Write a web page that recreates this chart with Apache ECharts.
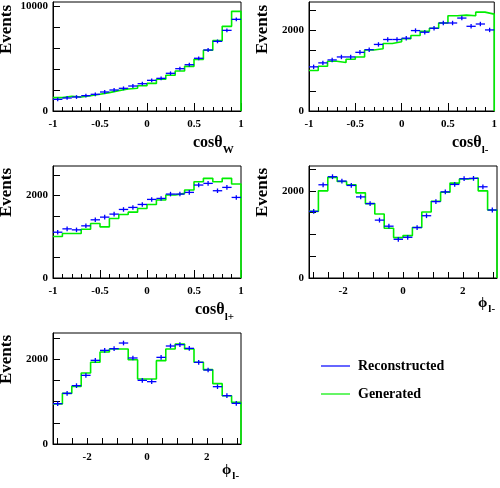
<!DOCTYPE html>
<html>
<head>
<meta charset="utf-8">
<script src="https://cdn.jsdelivr.net/npm/echarts@6/dist/echarts.min.js"></script>
<style>html,body{margin:0;padding:0;background:#fff;}#c{width:500px;height:488px;}</style>
</head>
<body>
<div id="c"></div>
<script>
// ---- data (20 bins per histogram) ----
const cosWGen  = [1270,1400,1330,1460,1590,1750,1940,2100,2160,2410,2630,3020,3400,3810,4250,4920,5780,6700,8060,9490];
const cosWRec  = [1110,1240,1330,1460,1590,1810,2000,2160,2380,2600,2920,3110,3590,4030,4410,5020,5810,6630,7680,8730];
const cosLmGen = [1004,1110,1233,1200,1282,1339,1510,1543,1673,1714,1788,1869,1976,2049,2180,2359,2376,2359,2449,2400];
const cosLmRec = [1094,1192,1265,1339,1339,1453,1518,1649,1771,1771,1804,1992,1951,2049,2180,2180,2302,2098,2155,2008];
const cosLpGen = [1004,1077,1077,1182,1320,1239,1441,1538,1595,1684,1781,1887,2008,2049,2130,2332,2413,2332,2413,2275];
const cosLpRec = [1109,1190,1166,1263,1409,1474,1547,1660,1709,1781,1903,1927,2032,2032,2073,2251,2291,2113,2194,1951];
const phiAGen  = [1529,2000,2309,2216,2139,1954,1707,1467,1143,927,973,1158,1514,1761,1969,2178,2270,2293,2000,1560];
const phiARec  = [1529,2139,2324,2224,2124,1861,1707,1328,1189,888,934,1158,1429,1753,1977,2147,2278,2286,2093,1560];
const phiBGen  = [941,1192,1357,1671,1922,2165,2235,2235,1984,1529,1529,1961,2235,2353,2235,1922,1749,1420,1137,980];
const phiBRec  = [949,1192,1373,1616,1969,2204,2243,2376,2024,1498,1467,2039,2306,2337,2251,1922,1741,1349,1137,957];
const recErr   = [180, 55, 55, 55, 55];
const yMax     = [10380, 2700, 2712, 2570, 2612];
const cosTickLabels = [-1, -0.5, 0, 0.5, 1];
const phiTickLabels = [-2, 0, 2];
const yLabelsBig = [0, 10000];
const yLabelsSmall = [0, 2000];
const legendNames = ['Reconstructed', 'Generated'];

// ---- layout ----
const FONT = '"Liberation Serif", "Times New Roman", serif';
const grids = [
  {left:53, top:2, width:188, height:109},
  {left:309, top:2, width:188, height:109},
  {left:53, top:166, width:188, height:112},
  {left:309, top:166, width:188, height:112},
  {left:53, top:333, width:188, height:111}
];
const PI = Math.PI;
const panels = [
  {gen:cosWGen, rec:cosWRec, lo:-1, hi:1, type:'cos'},
  {gen:cosLmGen, rec:cosLmRec, lo:-1, hi:1, type:'cos'},
  {gen:cosLpGen, rec:cosLpRec, lo:-1, hi:1, type:'cos'},
  {gen:phiAGen, rec:phiARec, lo:-PI, hi:PI, type:'phi'},
  {gen:phiBGen, rec:phiBRec, lo:-PI, hi:PI, type:'phi'}
];
const GREEN = '#00ee00', BLUE = '#0000ff';

function range(a, b, s){ const r=[]; for(let v=a; v<=b+1e-9; v+=s) r.push(+v.toFixed(6)); return r; }

const xAxes = [], yAxes = [], series = [];
panels.forEach((p, i) => {
  const n = p.gen.length, w = (p.hi - p.lo) / n;
  const edges = []; for (let k=0;k<=n;k++) edges.push(p.lo + k*w);
  const common = {
    gridIndex:i, type:'value', min:p.lo, max:p.hi,
    axisLine:{onZero:false, lineStyle:{color:'#000', width:1}},
    splitLine:{show:false},
  };
  if (p.type === 'cos') {
    xAxes.push(Object.assign({}, common, {
      interval:0.5,
      axisTick:{inside:true, length:8, lineStyle:{color:'#000'}},
      minorTick:{show:true, splitNumber:5, length:4, lineStyle:{color:'#000'}},
      axisLabel:{customValues:cosTickLabels, fontFamily:FONT, fontWeight:'bold', fontSize:11, color:'#000', margin:8, formatter:v=>String(v)}
    }));
  } else {
    xAxes.push(Object.assign({}, common, {
      axisTick:{inside:true, length:6, customValues:range(-3,3,0.5), lineStyle:{color:'#000'}},
      axisLabel:{customValues:phiTickLabels, fontFamily:FONT, fontWeight:'bold', fontSize:11, color:'#000', margin:8, formatter:v=>String(Math.round(v))}
    }));
  }
  const big = i === 0;
  yAxes.push({
    gridIndex:i, type:'value', min:0, max:yMax[i],
    axisLine:{show:true, onZero:false, lineStyle:{color:'#000', width:1}},
    splitLine:{show:false},
    axisTick:{inside:true, length:7, customValues: big ? range(0,10000,2000) : range(0,2500,500), lineStyle:{color:'#000'}},
    axisLabel:{customValues: big ? yLabelsBig : yLabelsSmall, fontFamily:FONT, fontWeight:'bold', fontSize:11, color:'#000', margin:5, formatter:v=>String(v)}
  });
  const genData = p.gen.map((v,k)=>[edges[k], v]);
  genData.push([edges[n], p.gen[n-1]]);
  genData.push([edges[n], 0]);
  series.push({
    name:'Generated', type:'line', xAxisIndex:i, yAxisIndex:i, step:'end',
    data:genData, showSymbol:false, symbol:'none', clip:false,
    lineStyle:{color:GREEN, width:1.6}, itemStyle:{color:GREEN}, z:3, animation:false
  });
  const recData = p.rec.map((v,k)=>[edges[k], edges[k+1], v, recErr[i]]);
  series.push({
    name:'Reconstructed', type:'custom', xAxisIndex:i, yAxisIndex:i,
    data:recData, encode:{x:[0,1], y:2}, itemStyle:{color:BLUE}, z:4, animation:false,
    renderItem:(params, api) => {
      const lo=api.value(0), hi=api.value(1), v=api.value(2), e=api.value(3);
      const a=api.coord([lo,v]), b=api.coord([hi,v]);
      const m=(lo+hi)/2, t=api.coord([m,v+e]), d=api.coord([m,v-e]);
      return {type:'group', children:[
        {type:'line', shape:{x1:a[0],y1:a[1],x2:b[0],y2:b[1]}, style:{stroke:BLUE, lineWidth:1.3}},
        {type:'line', shape:{x1:t[0],y1:t[1],x2:d[0],y2:d[1]}, style:{stroke:BLUE, lineWidth:1.3}}
      ]};
    }
  });
});

const richBase = {
  a:{fontFamily:FONT, fontWeight:'bold', fontSize:16, color:'#000', padding:[0,0,5,0]},
  p:{fontFamily:FONT, fontWeight:'bold', fontSize:15, color:'#000', padding:[0,1,4,0]},
  s:{fontFamily:FONT, fontWeight:'bold', fontSize:11, color:'#000', verticalAlign:'bottom'}
};
function title(x, y, txt){
  return {type:'text', x:x, y:y, style:{text:txt, rich:richBase, textAlign:'left', textVerticalAlign:'top'}, z:10};
}
function events(x, y){
  return {type:'text', x:x, y:y, rotation:Math.PI/2,
    style:{text:'Events', fontFamily:FONT, fontWeight:'bold', fontSize:17, fill:'#000', textAlign:'right', textVerticalAlign:'middle'}, z:10};
}

const option = {
  animation:false,
  backgroundColor:'#fff',
  grid: grids.map(g => Object.assign({show:true, borderColor:'#000', borderWidth:1, backgroundColor:'transparent', containLabel:false}, g)),
  xAxis: xAxes,
  yAxis: yAxes,
  legend:{
    orient:'vertical', left:316, top:354, itemWidth:29, itemHeight:1.2, itemGap:14, selectedMode:false,
    data:[
      {name:legendNames[0], icon:'rect', itemStyle:{color:BLUE}},
      {name:legendNames[1], icon:'rect', itemStyle:{color:GREEN}}
    ],
    textStyle:{fontFamily:FONT, fontWeight:'bold', fontSize:14, color:'#000', padding:[0,0,0,3]}
  },
  graphic:[
    events(7, 5), events(263, 5), events(7, 168), events(263, 168), events(7, 335),
    title(193, 135, '{a|cosθ}{s|W}'),
    title(452, 135, '{a|cosθ}{s|l-}'),
    title(195, 302, '{a|cosθ}{s|l+}'),
    title(478, 296, '{p|ϕ}{s|l-}'),
    title(222, 463, '{p|ϕ}{s|l-}')
  ],
  series: series
};
const chart = echarts.init(document.getElementById('c'), null, {renderer:'canvas'});
chart.setOption(option);
</script>
</body>
</html>
